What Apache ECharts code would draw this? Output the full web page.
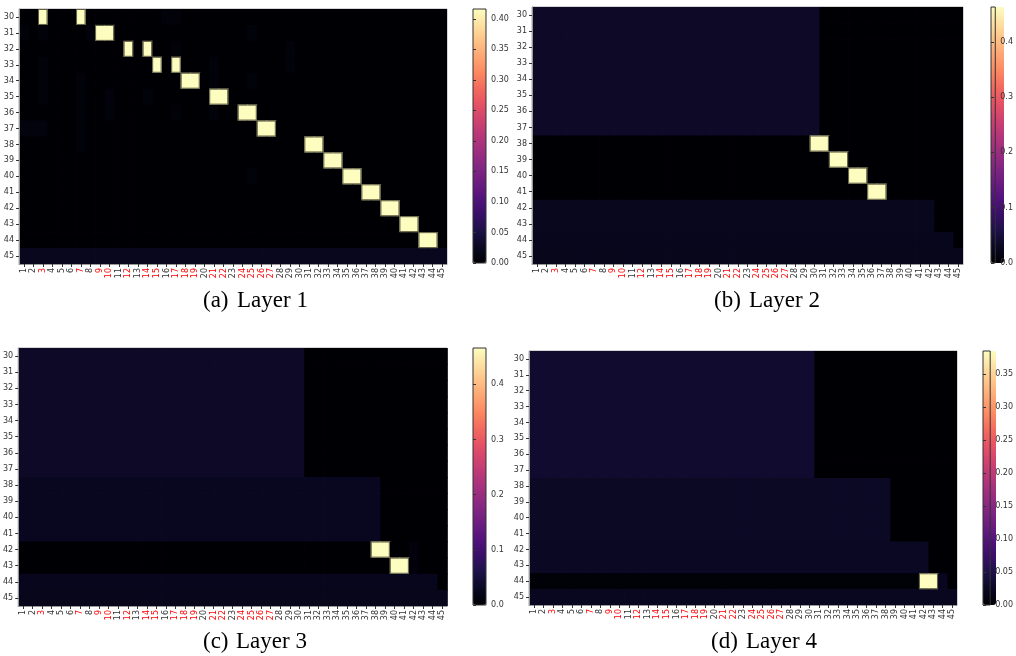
<!DOCTYPE html>
<html><head><meta charset="utf-8">
<script src="https://cdn.jsdelivr.net/npm/echarts@6/dist/echarts.min.js"></script>
<style>html,body{margin:0;padding:0;background:#fff}#c{width:1016px;height:656px}</style>
</head><body><div id="c"></div>
<script>
const xLabels = ['1','2','3','4','5','6','7','8','9','10','11','12','13','14','15','16','17','18','19','20','21','22','23','24','25','26','27','28','29','30','31','32','33','34','35','36','37','38','39','40','41','42','43','44','45'];
const yLabels = ['30','31','32','33','34','35','36','37','38','39','40','41','42','43','44','45'];
const redLabels = ['3','7','9','10','12','14','15','17','18','19','21','22','24','25','26','27'];

const layer1 = [
[0,0,.416,0,0,0,.416,0,0,0, 0,0,0,0,0,.005,.005,0,0,0, 0,0,0,0,0,0,0,0,0,0, 0,0,0,0,0,0,0,0,0,0, 0,0,0,0,0],
[.005,0,.006,0,0,0,0,.005,.416,.416, 0,0,0,0,0,0,0,0,0,0, 0,0,0,0,.006,0,0,0,0,0, 0,0,0,0,0,0,0,0,0,0, 0,0,0,0,0],
[0,0,0,0,0,0,0,0,0,0, 0,.416,0,.416,0,0,.006,0,0,0, 0,0,0,0,0,0,0,0,.006,0, 0,0,0,0,0,0,0,0,0,0, 0,0,0,0,0],
[0,0,.006,0,0,0,0,0,0,0, 0,0,0,0,.416,0,.416,0,0,0, .006,0,0,0,0,0,0,0,.005,0, 0,0,0,0,0,0,0,0,0,0, 0,0,0,0,0],
[0,0,.006,0,0,0,.006,0,0,0, 0,0,0,0,0,0,0,.416,.416,0, .006,0,0,0,.006,0,0,0,0,0, 0,0,0,0,0,0,0,0,0,0, 0,0,0,0,0],
[0,0,.006,0,0,0,.006,0,0,.007, 0,0,0,.006,0,0,0,0,0,0, .416,.416,0,0,0,0,0,0,0,0, 0,0,0,0,0,0,0,0,0,0, 0,0,0,0,0],
[0,0,0,0,0,0,.006,0,0,.006, 0,0,0,0,0,0,.006,0,0,0, .006,0,0,.416,.416,0,0,0,0,0, 0,0,0,0,0,0,0,0,0,0, 0,0,0,0,0],
[.009,.009,.009,0,0,0,.005,0,0,0, 0,0,0,0,0,0,0,0,0,0, 0,0,0,0,0,.416,.416,0,0,0, 0,0,0,0,0,0,0,0,0,0, 0,0,0,0,0],
[0,0,0,0,0,0,.006,0,0,0, 0,0,0,0,0,0,0,0,0,0, 0,0,0,0,0,0,0,0,0,0, .416,.416,0,0,0,0,0,0,0,0, 0,0,0,0,0],
[0,0,0,0,0,0,0,0,0,0, 0,0,0,0,0,0,0,0,0,0, 0,0,0,0,0,0,0,0,0,0, 0,0,.416,.416,0,0,0,0,0,0, 0,0,0,0,0],
[0,0,0,0,0,0,0,0,0,0, 0,0,0,0,0,0,0,0,0,0, 0,0,0,0,.006,0,0,0,0,0, 0,0,0,0,.416,.416,0,0,0,0, 0,0,0,0,0],
[0,0,0,0,0,0,0,0,0,0, 0,0,0,0,0,0,0,0,0,0, 0,0,0,0,0,0,0,0,0,0, 0,0,0,0,0,0,.416,.416,0,0, 0,0,0,0,0],
[0,0,0,0,0,0,0,0,0,0, 0,0,0,0,0,0,0,0,0,0, 0,0,0,0,0,0,0,0,0,0, 0,0,0,0,0,0,0,0,.416,.416, 0,0,0,0,0],
[0,0,0,0,0,0,0,0,0,0, 0,0,0,0,0,0,0,0,0,0, 0,0,0,0,0,0,0,0,0,0, 0,0,0,0,0,0,0,0,0,0, .416,.416,0,0,0],
[0,0,0,0,0,0,0,0,0,0, 0,0,0,0,0,0,0,0,0,0, 0,0,0,0,0,0,0,0,0,0, 0,0,0,0,0,0,0,0,0,0, 0,0,.416,.416,0],
[.022,.022,.022,.022,.022,.022,.022,.022,.022,.022, .022,.022,.022,.022,.022,.022,.022,.022,.022,.022, .022,.022,.022,.022,.022,.022,.022,.022,.022,.022, .022,.022,.022,.022,.022,.022,.022,.022,.022,.022, .022,.022,.022,.022,.022]
];

const layer2 = [
[.033,.033,.033,.033,.033,.033,.033,.033,.033,.033, .033,.033,.033,.033,.033,.033,.033,.033,.033,.033, .033,.033,.033,.033,.033,.033,.033,.033,.033,.033, 0,0,0,0,0,0,0,0,0,0, 0,0,0,0,0],
[.033,.033,.033,.033,.033,.033,.033,.033,.033,.033, .033,.033,.033,.033,.033,.033,.033,.033,.033,.033, .033,.033,.033,.033,.033,.033,.033,.033,.033,.033, 0,0,0,0,0,0,0,0,0,0, 0,0,0,0,0],
[.033,.033,.033,.033,.033,.033,.033,.033,.033,.033, .033,.033,.033,.033,.033,.033,.033,.033,.033,.033, .033,.033,.033,.033,.033,.033,.033,.033,.033,.033, 0,0,0,0,0,0,0,0,0,0, 0,0,0,0,0],
[.033,.033,.033,.033,.033,.033,.033,.033,.033,.033, .033,.033,.033,.033,.033,.033,.033,.033,.033,.033, .033,.033,.033,.033,.033,.033,.033,.033,.033,.033, 0,0,0,0,0,0,0,0,0,0, 0,0,0,0,0],
[.033,.033,.033,.033,.033,.033,.033,.033,.033,.033, .033,.033,.033,.033,.033,.033,.033,.033,.033,.033, .033,.033,.033,.033,.033,.033,.033,.033,.033,.033, 0,0,0,0,0,0,0,0,0,0, 0,0,0,0,0],
[.033,.033,.033,.033,.033,.033,.033,.033,.033,.033, .033,.033,.033,.033,.033,.033,.033,.033,.033,.033, .033,.033,.033,.033,.033,.033,.033,.033,.033,.033, 0,0,0,0,0,0,0,0,0,0, 0,0,0,0,0],
[.033,.033,.033,.033,.033,.033,.033,.033,.033,.033, .033,.033,.033,.033,.033,.033,.033,.033,.033,.033, .033,.033,.033,.033,.033,.033,.033,.033,.033,.033, 0,0,0,0,0,0,0,0,0,0, 0,0,0,0,0],
[.033,.033,.033,.033,.033,.033,.033,.033,.033,.033, .033,.033,.033,.033,.033,.033,.033,.033,.033,.033, .033,.033,.033,.033,.033,.033,.033,.033,.033,.033, 0,0,0,0,0,0,0,0,0,0, 0,0,0,0,0],
[0,0,0,0,0,0,0,0,0,0, 0,0,0,0,0,0,0,0,0,0, 0,0,0,0,0,0,0,0,0,.463, .463,0,0,0,0,0,0,0,0,0, 0,0,0,0,0],
[0,0,0,0,0,0,0,0,0,0, 0,0,0,0,0,0,0,0,0,0, 0,0,0,0,0,0,0,0,0,0, 0,.463,.463,0,0,0,0,0,0,0, 0,0,0,0,0],
[0,0,0,0,0,0,0,0,0,0, 0,0,0,0,0,0,0,0,0,0, 0,0,0,0,0,0,0,0,0,0, 0,0,0,.463,.463,0,0,0,0,0, 0,0,0,0,0],
[0,0,0,0,0,0,0,0,0,0, 0,0,0,0,0,0,0,0,0,0, 0,0,0,0,0,0,0,0,0,0, 0,0,0,0,0,.463,.463,0,0,0, 0,0,0,0,0],
[.024,.024,.024,.024,.024,.024,.024,.024,.024,.024, .024,.024,.024,.024,.024,.024,.024,.024,.024,.024, .024,.024,.024,.024,.024,.024,.024,.024,.024,.024, .024,.024,.024,.024,.024,.024,.024,.024,.024,.024, .024,.024,0,0,0],
[.024,.024,.024,.024,.024,.024,.024,.024,.024,.024, .024,.024,.024,.024,.024,.024,.024,.024,.024,.024, .024,.024,.024,.024,.024,.024,.024,.024,.024,.024, .024,.024,.024,.024,.024,.024,.024,.024,.024,.024, .024,.024,0,0,0],
[.023,.023,.023,.023,.023,.023,.023,.023,.023,.023, .023,.023,.023,.023,.023,.023,.023,.023,.023,.023, .023,.023,.023,.023,.023,.023,.023,.023,.023,.023, .023,.023,.023,.023,.023,.023,.023,.023,.023,.023, .023,.023,.023,.023,0],
[.022,.022,.022,.022,.022,.022,.022,.022,.022,.022, .022,.022,.022,.022,.022,.022,.022,.022,.022,.022, .022,.022,.022,.022,.022,.022,.022,.022,.022,.022, .022,.022,.022,.022,.022,.022,.022,.022,.022,.022, .022,.022,.022,.022,.022]
];

const layer3 = [
[.033,.033,.033,.033,.033,.033,.033,.033,.033,.033, .033,.033,.033,.033,.033,.033,.033,.033,.033,.033, .033,.033,.033,.033,.033,.033,.033,.033,.033,.033, 0,0,0,0,0,0,0,0,0,0, 0,0,0,0,0],
[.033,.033,.033,.033,.033,.033,.033,.033,.033,.033, .033,.033,.033,.033,.033,.033,.033,.033,.033,.033, .033,.033,.033,.033,.033,.033,.033,.033,.033,.033, 0,0,0,0,0,0,0,0,0,0, 0,0,0,0,0],
[.033,.033,.033,.033,.033,.033,.033,.033,.033,.033, .033,.033,.033,.033,.033,.033,.033,.033,.033,.033, .033,.033,.033,.033,.033,.033,.033,.033,.033,.033, 0,0,0,0,0,0,0,0,0,0, 0,0,0,0,0],
[.033,.033,.033,.033,.033,.033,.033,.033,.033,.033, .033,.033,.033,.033,.033,.033,.033,.033,.033,.033, .033,.033,.033,.033,.033,.033,.033,.033,.033,.033, 0,0,0,0,0,0,0,0,0,0, 0,0,0,0,0],
[.033,.033,.033,.033,.033,.033,.033,.033,.033,.033, .033,.033,.033,.033,.033,.033,.033,.033,.033,.033, .033,.033,.033,.033,.033,.033,.033,.033,.033,.033, 0,0,0,0,0,0,0,0,0,0, 0,0,0,0,0],
[.033,.033,.033,.033,.033,.033,.033,.033,.033,.033, .033,.033,.033,.033,.033,.033,.033,.033,.033,.033, .033,.033,.033,.033,.033,.033,.033,.033,.033,.033, 0,0,0,0,0,0,0,0,0,0, 0,0,0,0,0],
[.033,.033,.033,.033,.033,.033,.033,.033,.033,.033, .033,.033,.033,.033,.033,.033,.033,.033,.033,.033, .033,.033,.033,.033,.033,.033,.033,.033,.033,.033, 0,0,0,0,0,0,0,0,0,0, 0,0,0,0,0],
[.033,.033,.033,.033,.033,.033,.033,.033,.033,.033, .033,.033,.033,.033,.033,.033,.033,.033,.033,.033, .033,.033,.033,.033,.033,.033,.033,.033,.033,.033, 0,0,0,0,0,0,0,0,0,0, 0,0,0,0,0],
[.026,.026,.026,.026,.026,.026,.026,.026,.026,.026, .026,.026,.026,.026,.026,.026,.026,.026,.026,.026, .026,.026,.026,.026,.026,.026,.026,.026,.026,.026, .026,.026,.026,.026,.026,.026,.026,.026,0,0, 0,0,0,0,0],
[.026,.026,.026,.026,.026,.026,.026,.026,.026,.026, .026,.026,.026,.026,.026,.026,.026,.026,.026,.026, .026,.026,.026,.026,.026,.026,.026,.026,.026,.026, .026,.026,.026,.026,.026,.026,.026,.026,0,0, 0,0,0,0,0],
[.026,.026,.026,.026,.026,.026,.026,.026,.026,.026, .026,.026,.026,.026,.026,.026,.026,.026,.026,.026, .026,.026,.026,.026,.026,.026,.026,.026,.026,.026, .026,.026,.026,.026,.026,.026,.026,.026,0,0, 0,0,0,0,0],
[.026,.026,.026,.026,.026,.026,.026,.026,.026,.026, .026,.026,.026,.026,.026,.026,.026,.026,.026,.026, .026,.026,.026,.026,.026,.026,.026,.026,.026,.026, .026,.026,.026,.026,.026,.026,.026,.026,0,0, 0,0,0,0,0],
[0,0,0,0,0,0,0,0,0,0, 0,0,0,0,0,0,0,0,0,0, 0,0,0,0,0,0,0,0,0,0, 0,0,0,0,0,0,0,.466,.466,0, 0,.008,0,0,0],
[0,0,0,0,0,0,0,0,0,0, 0,0,0,0,0,0,0,0,0,0, 0,0,0,0,0,0,0,0,0,0, 0,0,0,0,0,0,0,0,0,.466, .466,.008,0,0,0],
[.023,.023,.023,.023,.023,.023,.023,.023,.023,.023, .023,.023,.023,.023,.023,.023,.023,.023,.023,.023, .023,.023,.023,.023,.023,.023,.023,.023,.023,.023, .023,.023,.023,.023,.023,.023,.023,.023,.023,.023, .023,.023,.023,.023,0],
[.022,.022,.022,.022,.022,.022,.022,.022,.022,.022, .022,.022,.022,.022,.022,.022,.022,.022,.022,.022, .022,.022,.022,.022,.022,.022,.022,.022,.022,.022, .022,.022,.022,.022,.022,.022,.022,.022,.022,.022, .022,.022,.022,.022,.022]
];

const layer4 = [
[.033,.033,.033,.033,.033,.033,.033,.033,.033,.033, .033,.033,.033,.033,.033,.033,.033,.033,.033,.033, .033,.033,.033,.033,.033,.033,.033,.033,.033,.033, 0,0,0,0,0,0,0,0,0,0, 0,0,0,0,0],
[.033,.033,.033,.033,.033,.033,.033,.033,.033,.033, .033,.033,.033,.033,.033,.033,.033,.033,.033,.033, .033,.033,.033,.033,.033,.033,.033,.033,.033,.033, 0,0,0,0,0,0,0,0,0,0, 0,0,0,0,0],
[.033,.033,.033,.033,.033,.033,.033,.033,.033,.033, .033,.033,.033,.033,.033,.033,.033,.033,.033,.033, .033,.033,.033,.033,.033,.033,.033,.033,.033,.033, 0,0,0,0,0,0,0,0,0,0, 0,0,0,0,0],
[.033,.033,.033,.033,.033,.033,.033,.033,.033,.033, .033,.033,.033,.033,.033,.033,.033,.033,.033,.033, .033,.033,.033,.033,.033,.033,.033,.033,.033,.033, 0,0,0,0,0,0,0,0,0,0, 0,0,0,0,0],
[.033,.033,.033,.033,.033,.033,.033,.033,.033,.033, .033,.033,.033,.033,.033,.033,.033,.033,.033,.033, .033,.033,.033,.033,.033,.033,.033,.033,.033,.033, 0,0,0,0,0,0,0,0,0,0, 0,0,0,0,0],
[.033,.033,.033,.033,.033,.033,.033,.033,.033,.033, .033,.033,.033,.033,.033,.033,.033,.033,.033,.033, .033,.033,.033,.033,.033,.033,.033,.033,.033,.033, 0,0,0,0,0,0,0,0,0,0, 0,0,0,0,0],
[.033,.033,.033,.033,.033,.033,.033,.033,.033,.033, .033,.033,.033,.033,.033,.033,.033,.033,.033,.033, .033,.033,.033,.033,.033,.033,.033,.033,.033,.033, 0,0,0,0,0,0,0,0,0,0, 0,0,0,0,0],
[.033,.033,.033,.033,.033,.033,.033,.033,.033,.033, .033,.033,.033,.033,.033,.033,.033,.033,.033,.033, .033,.033,.033,.033,.033,.033,.033,.033,.033,.033, 0,0,0,0,0,0,0,0,0,0, 0,0,0,0,0],
[.026,.026,.026,.026,.026,.026,.026,.026,.026,.026, .026,.026,.026,.026,.026,.026,.026,.026,.026,.026, .026,.026,.026,.026,.026,.026,.026,.026,.026,.026, .026,.026,.026,.026,.026,.026,.026,.026,0,0, 0,0,0,0,0],
[.026,.026,.026,.026,.026,.026,.026,.026,.026,.026, .026,.026,.026,.026,.026,.026,.026,.026,.026,.026, .026,.026,.026,.026,.026,.026,.026,.026,.026,.026, .026,.026,.026,.026,.026,.026,.026,.026,0,0, 0,0,0,0,0],
[.026,.026,.026,.026,.026,.026,.026,.026,.026,.026, .026,.026,.026,.026,.026,.026,.026,.026,.026,.026, .026,.026,.026,.026,.026,.026,.026,.026,.026,.026, .026,.026,.026,.026,.026,.026,.026,.026,0,0, 0,0,0,0,0],
[.026,.026,.026,.026,.026,.026,.026,.026,.026,.026, .026,.026,.026,.026,.026,.026,.026,.026,.026,.026, .026,.026,.026,.026,.026,.026,.026,.026,.026,.026, .026,.026,.026,.026,.026,.026,.026,.026,0,0, 0,0,0,0,0],
[.024,.024,.024,.024,.024,.024,.024,.024,.024,.024, .024,.024,.024,.024,.024,.024,.024,.024,.024,.024, .024,.024,.024,.024,.024,.024,.024,.024,.024,.024, .024,.024,.024,.024,.024,.024,.024,.024,.024,.024, .024,.024,0,0,0],
[.024,.024,.024,.024,.024,.024,.024,.024,.024,.024, .024,.024,.024,.024,.024,.024,.024,.024,.024,.024, .024,.024,.024,.024,.024,.024,.024,.024,.024,.024, .024,.024,.024,.024,.024,.024,.024,.024,.024,.024, .024,.024,0,0,0],
[.003,.003,.003,.003,.003,.003,.003,.003,.003,.003, .003,.003,.003,.003,.003,.003,.003,.003,.003,.003, .003,.003,.003,.003,.003,.003,.003,.003,.003,.003, .003,.003,.003,.003,.003,.003,.003,.003,.003,.003, .003,.385,.385,.022,0],
[.022,.022,.022,.022,.022,.022,.022,.022,.022,.022, .022,.022,.022,.022,.022,.022,.022,.022,.022,.022, .022,.022,.022,.022,.022,.022,.022,.022,.022,.022, .022,.022,.022,.022,.022,.022,.022,.022,.022,.022, .022,.022,.022,.022,.022]
];

const layerMax = [0.416, 0.463, 0.466, 0.385];
const tickStep = [0.05, 0.1, 0.1, 0.05];
const tickDigits = [2, 1, 1, 2];
const captionTags = ['(a)', '(b)', '(c)', '(d)'];
const captionNames = ['Layer 1', 'Layer 2', 'Layer 3', 'Layer 4'];

const magma = ['#000004','#0a0822','#1d1147','#371066','#51127c','#6a1c80','#822681','#9c2e7f','#b63679','#cf4270','#e65164','#f36a5e','#fb8861','#fda573','#fec287','#fde0a3','#fcfdbf'];

const layout = [
  {plot:[19,9,428,255], bar:[473,9,13,254], cap:[203,237,302]},
  {plot:[532,7,431,257], bar:[991,7,13,256], cap:[714,749,302]},
  {plot:[17,348,430,258], bar:[473,348,13,257], cap:[203,236,643]},
  {plot:[529,351,428,254], bar:[983,351,13,254], cap:[711,746,643]}
];

const layers = [layer1, layer2, layer3, layer4];
const grid = [], xAxis = [], yAxis = [], series = [], visualMap = [], graphic = [];
const labelFont = 'DejaVu Sans';

function makeRender(mat, vmax) {
  const hi = (r, c) => r >= 0 && r < mat.length && c >= 0 && c < mat[r].length && mat[r][c] > vmax * 0.5;
  return function (params, api) {
    const c = api.value(0), r = api.value(1), v = api.value(2);
    const p = api.coord([c, r]);
    const s = api.size([1, 1]);
    const x0 = p[0] - s[0] / 2, y0 = p[1] - s[1] / 2, x1 = x0 + s[0], y1 = y0 + s[1];
    const kids = [{type:'rect', shape:{x:x0, y:y0, width:s[0] + 0.8, height:s[1] + 0.8}, style:{fill:api.visual('color')}}];
    if (v > vmax * 0.5) {
      const st = {stroke:'#5e5d45', lineWidth:1};
      if (!hi(r, c - 1)) kids.push({type:'line', z2:10, shape:{x1:x0 + 0.5, y1:y0, x2:x0 + 0.5, y2:y1}, style:st});
      if (!hi(r, c + 1)) kids.push({type:'line', z2:10, shape:{x1:x1 - 0.5, y1:y0, x2:x1 - 0.5, y2:y1}, style:st});
      if (!hi(r - 1, c)) kids.push({type:'line', z2:10, shape:{x1:x0, y1:y0 + 0.5, x2:x1, y2:y0 + 0.5}, style:st});
      if (!hi(r + 1, c)) kids.push({type:'line', z2:10, shape:{x1:x0, y1:y1 - 0.5, x2:x1, y2:y1 - 0.5}, style:st});
    }
    return {type:'group', children:kids};
  };
}

layers.forEach((mat, i) => {
  const L = layout[i];
  grid.push({left:L.plot[0], top:L.plot[1], width:L.plot[2], height:L.plot[3], show:true, borderColor:'#aaa', borderWidth:1, backgroundColor:'transparent'});
  xAxis.push({type:'category', gridIndex:i, data:xLabels, position:'bottom', z:5,
    axisLine:{show:true, lineStyle:{color:'#999', width:1}},
    axisTick:{show:true, alignWithLabel:true, length:3, lineStyle:{color:'#333'}},
    axisLabel:{interval:0, rotate:90, fontSize:8, fontFamily:labelFont, margin:4,
      color:(v) => redLabels.includes(v) ? '#ff0000' : '#333'},
    splitLine:{show:false}});
  yAxis.push({type:'category', gridIndex:i, data:yLabels, inverse:true, z:5,
    axisLine:{show:true, lineStyle:{color:'#999', width:1}},
    axisTick:{show:true, alignWithLabel:true, length:3, lineStyle:{color:'#333'}},
    axisLabel:{interval:0, fontSize:8, fontFamily:labelFont, margin:5, color:'#333'},
    splitLine:{show:false}});
  const data = [];
  mat.forEach((row, r) => row.forEach((v, c) => data.push([c, r, v])));
  series.push({type:'custom', xAxisIndex:i, yAxisIndex:i, data:data, clip:true,
    encode:{x:0, y:1}, renderItem:makeRender(mat, layerMax[i]), silent:true});
  visualMap.push({type:'continuous', seriesIndex:i, dimension:2, min:0, max:layerMax[i],
    calculable:false, hoverLink:false, orient:'vertical', left:L.bar[0], top:L.bar[1],
    itemWidth:L.bar[2], itemHeight:L.bar[3], padding:0, inRange:{color:magma}});
});

layers.forEach((mat, i) => {
  const L = layout[i];
  const g = 4 + i;
  grid.push({left:L.bar[0], top:L.bar[1], width:L.bar[2], height:L.bar[3], show:true,
    borderColor:'#333', borderWidth:1, backgroundColor:'transparent', z:10});
  xAxis.push({type:'value', gridIndex:g, show:false, min:0, max:1});
  yAxis.push({type:'value', gridIndex:g, position:'right', min:0, max:layerMax[i], interval:tickStep[i], z:10,
    axisLine:{show:false},
    axisTick:{show:true, length:3, lineStyle:{color:'#333'}},
    axisLabel:{fontSize:8, fontFamily:labelFont, margin:5, color:'#333', showMaxLabel:false,
      formatter:(v) => v.toFixed(tickDigits[i])},
    splitLine:{show:false}});
  graphic.push({type:'text', left:L.cap[0], top:L.cap[2] - 13,
    style:{text:captionTags[i], font:'23px "Liberation Serif"', fill:'#000'}});
  graphic.push({type:'text', left:L.cap[1], top:L.cap[2] - 13,
    style:{text:captionNames[i], font:'23px "Liberation Serif"', fill:'#000'}});
});

const chart = echarts.init(document.getElementById('c'), null, {renderer:'canvas', width:1016, height:656});
chart.setOption({animation:false, backgroundColor:'#fff', grid, xAxis, yAxis, series, visualMap, graphic});
</script>
</body></html>
